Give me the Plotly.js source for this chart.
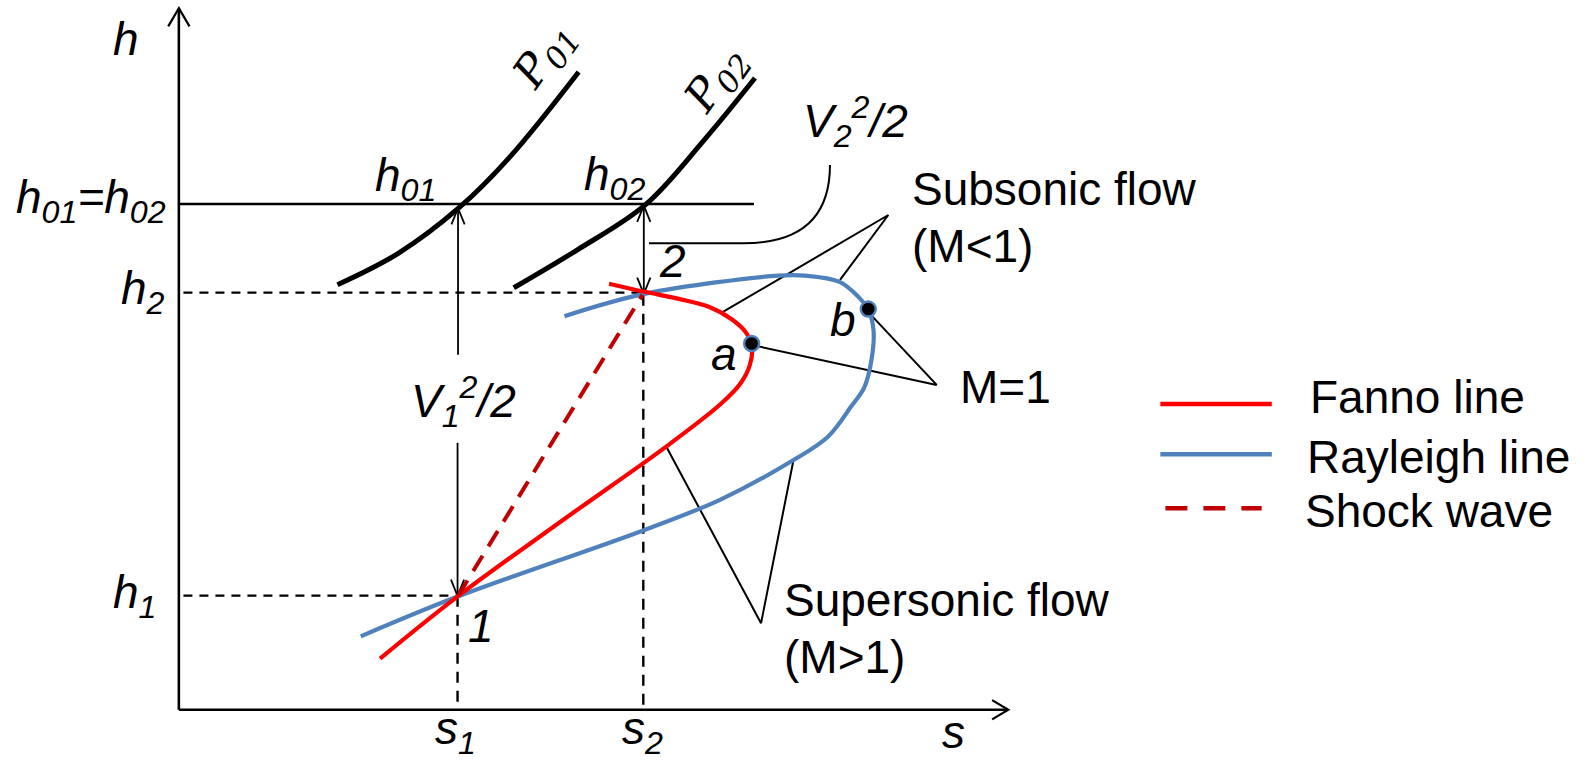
<!DOCTYPE html>
<html>
<head>
<meta charset="utf-8">
<script src="https://cdn.plot.ly/plotly-3.0.1.min.js"></script>
<style>html,body{margin:0;padding:0;background:#fff;}#chart{width:1589px;height:764px;}</style>
</head>
<body>
<div id="chart"></div>
<script>
// ---- Data (diagram coordinates: s to the right, h drawn on a reversed scale) ----
// Fanno line (red)
var fannoS = [375, 451, 560, 657, 712, 731, 740, 742, 736, 722, 700, 670, 636, 601];
var fannoH = [650, 589, 510, 441, 398, 378, 360, 342, 328, 315, 303, 295, 288, 280];
// Rayleigh line (blue)
var rayS = [356, 451, 636, 711, 783, 817, 840, 853, 860, 862, 857, 847, 828, 794, 768, 636, 557];
var rayH = [628, 589, 523, 493, 454, 431, 401, 382, 355, 326, 306, 293, 278, 272, 272, 290, 312];
// Shock wave (dashed dark red)
var shockS = [452, 634];
var shockH = [588, 291];
// Constant stagnation pressure curves
var p01S = [333, 393, 453, 503, 571];
var p01H = [281, 250, 205, 155, 71];
var p02S = [507, 569, 637, 695, 745];
var p02H = [284, 247, 202, 138, 77];
// Sonic points a, b
var sonicS = [741.7, 856.8];
var sonicH = [339, 305];
// Axes
var yAxisS = [176.5, 176.5], yAxisH = [700.5, 9];
var xAxisS = [176.5, 994], xAxisH = [700.5, 700.5];
var yArrowS = [166, 176.5, 187], yArrowH = [26, 8, 26];
var xArrowS = [979, 995, 979], xArrowH = [691, 700.5, 710];
// Reference lines
var h0LineS = [176.5, 744], h0LineH = [201.3, 201.3];
var h2LineS = [181, 636], h2LineH = [288.8, 288.8];
var h1LineS = [181, 451], h1LineH = [587.8, 587.8];
var s1LineS = [451.5, 451.5], s1LineH = [588, 700];
var s2LineS = [634.8, 634.8], s2LineH = [291, 700];
// Velocity arrows
var v1UpS = [452, 452], v1UpH = [350, 205.5];
var v1DownS = [451.5, 451.5], v1DownH = [437, 588];
var v2S = [635.3, 635.3], v2H = [203, 290];
// Bracket for V2^2/2: start, corner, control points, end
var bracketS = [640.4, 733.5, 800, 819, 819];
var bracketH = [240.1, 240.1, 240.1, 205, 162.8];
// Leader lines
var subS = [713.8, 876.6, 828.9], subH = [307.6, 212.2, 276.3];
var m1S = [741.7, 924.3, 856.8], m1H = [340.4, 379.9, 308];
var supS = [657, 751, 783], supH = [440, 615, 454];
// Legend
var legendNames = ['Fanno line', 'Rayleigh line', 'Shock wave'];
var legendLineS = [[1145, 1255], [1145, 1255], [1150, 1245]];
var legendLineH = [398.7, 448.3, 501.6];
var legendTextS = [1291, 1288, 1286];
var legendTextH = [392, 451, 504];

var RED = '#ff0000', BLUE = '#4f81bd', DRED = '#c00000', BLK = '#000000';

function ln(xs, ys, color, width, dash, shape) {
  return {x: xs, y: ys, type: 'scatter', mode: 'lines', hoverinfo: 'skip', cliponaxis: false,
    line: {color: color, width: width, dash: dash || 'solid', shape: shape || 'linear'}};
}
// chevron arrowhead at a tip
function chevronAt(tipS, tipH, dir) {
  // dir: +1 arrow points up (toward smaller H), -1 points down
  var w = 6.5, l = 16;
  return ln([tipS - w, tipS, tipS + w], [tipH + dir * l, tipH, tipH + dir * l], BLK, 1.8);
}

var traces = [
  ln(yAxisS, yAxisH, BLK, 2.6), ln(xAxisS, xAxisH, BLK, 2.6),
  ln(yArrowS, yArrowH, BLK, 2.2), ln(xArrowS, xArrowH, BLK, 2.2),
  ln(h0LineS, h0LineH, BLK, 2.5),
  ln(h2LineS, h2LineH, BLK, 2.4, '9px,7px'),
  ln(h1LineS, h1LineH, BLK, 2.4, '9px,7px'),
  ln(s1LineS, s1LineH, BLK, 2.4, '11px,8px'),
  ln(s2LineS, s2LineH, BLK, 2.4, '11px,8px'),
  ln(p01S, p01H, BLK, 5, 'solid', 'spline'),
  ln(p02S, p02H, BLK, 5, 'solid', 'spline'),
  ln(v1UpS, v1UpH, BLK, 1.8), chevronAt(v1UpS[1], v1UpH[1], 1),
  ln(v1DownS, v1DownH, BLK, 1.8), chevronAt(v1DownS[1], v1DownH[1], -1),
  ln(v2S, v2H, BLK, 1.8), chevronAt(v2S[0], v2H[0], 1), chevronAt(v2S[1], v2H[1], -1),
  ln(subS, subH, BLK, 2), ln(m1S, m1H, BLK, 2), ln(supS, supH, BLK, 2),
  ln(rayS, rayH, BLUE, 4.2, 'solid', 'spline'),
  ln(fannoS, fannoH, RED, 4.2, 'solid', 'spline'),
  ln(shockS, shockH, DRED, 4, '18px,11px'),
  {x: sonicS, y: sonicH, type: 'scatter', mode: 'markers', hoverinfo: 'skip', cliponaxis: false,
    marker: {size: 15, color: BLK, line: {color: BLUE, width: 2.4}}}
];
// legend samples
var legColors = [RED, BLUE, DRED];
var legDash = ['solid', 'solid', '22px,16px'];
for (var i = 0; i < legendNames.length; i++) {
  traces.push(ln(legendLineS[i], [legendLineH[i], legendLineH[i]], legColors[i], 4.5, legDash[i]));
}

var bracketPath = 'M ' + bracketS[0] + ',' + bracketH[0] + ' L ' + bracketS[1] + ',' + bracketH[1] +
  ' C ' + bracketS[2] + ',' + bracketH[2] + ' ' + bracketS[3] + ',' + bracketH[3] + ' ' + bracketS[4] + ',' + bracketH[4];

var SANS = 'Liberation Sans, Arial, sans-serif';
function ann(x, y, text, opts) {
  opts = opts || {};
  return {x: x, y: y, xref: 'x', yref: 'y', text: text, showarrow: false,
    xanchor: opts.xa || 'center', yanchor: 'middle', textangle: opts.angle || 0,
    font: {family: opts.family || SANS, size: opts.size || 46, color: BLK}};
}

var annotations = [
  ann(124, 38, '<i>h</i>'),
  ann(90, 198, '<i>h<sub>01</sub>=h<sub>02</sub></i>'),
  ann(141, 288, '<i>h<sub>2</sub></i>'),
  ann(133, 588, '<i>h<sub>1</sub></i>'),
  ann(449, 722, '<i>s<sub>1</sub></i>'),
  ann(634, 722, '<i>s<sub>2</sub></i>'),
  ann(941, 722, '<i>s</i>'),
  ann(400, 176, '<i>h<sub>01</sub></i>'),
  ann(606, 175, '<i>h<sub>02</sub></i>'),
  ann(538, 55, '<i>P<sub>01</sub></i>', {angle: -55, size: 44, family: 'DejaVu Serif, serif'}),
  ann(707, 78, '<i>P<sub>02</sub></i>', {angle: -55, size: 44, family: 'DejaVu Serif, serif'}),
  ann(457, 396, '<i>V<sub>1</sub><sup>2</sup>/2</i>'),
  ann(844, 120, '<i>V<sub>2</sub><sup>2</sup>/2</i>'),
  ann(664, 258, '<i>2</i>'),
  ann(475, 618, '<i>1</i>'),
  ann(714, 349, '<i>a</i>'),
  ann(832, 316, '<i>b</i>'),
  ann(898, 187, 'Subsonic flow', {xa: 'left'}),
  ann(898, 243, '(M&lt;1)', {xa: 'left'}),
  ann(945.5, 382, 'M=1', {xa: 'left'}),
  ann(772, 592, 'Supersonic flow', {xa: 'left'}),
  ann(772, 648, '(M&gt;1)', {xa: 'left'})
];
for (var j = 0; j < legendNames.length; j++) {
  annotations.push(ann(legendTextS[j], legendTextH[j], legendNames[j], {xa: 'left'}));
}

var layout = {
  width: 1589, height: 764,
  margin: {l: 0, r: 0, t: 0, b: 0, pad: 0},
  paper_bgcolor: '#ffffff', plot_bgcolor: '#ffffff',
  showlegend: false,
  xaxis: {range: [0, 1568], visible: false, fixedrange: true},
  yaxis: {range: [754, 0], visible: false, fixedrange: true},
  shapes: [{type: 'path', xref: 'x', yref: 'y', path: bracketPath, line: {color: BLK, width: 2}}],
  annotations: annotations
};

Plotly.newPlot('chart', traces, layout, {staticPlot: true, displayModeBar: false});
</script>
</body>
</html>
